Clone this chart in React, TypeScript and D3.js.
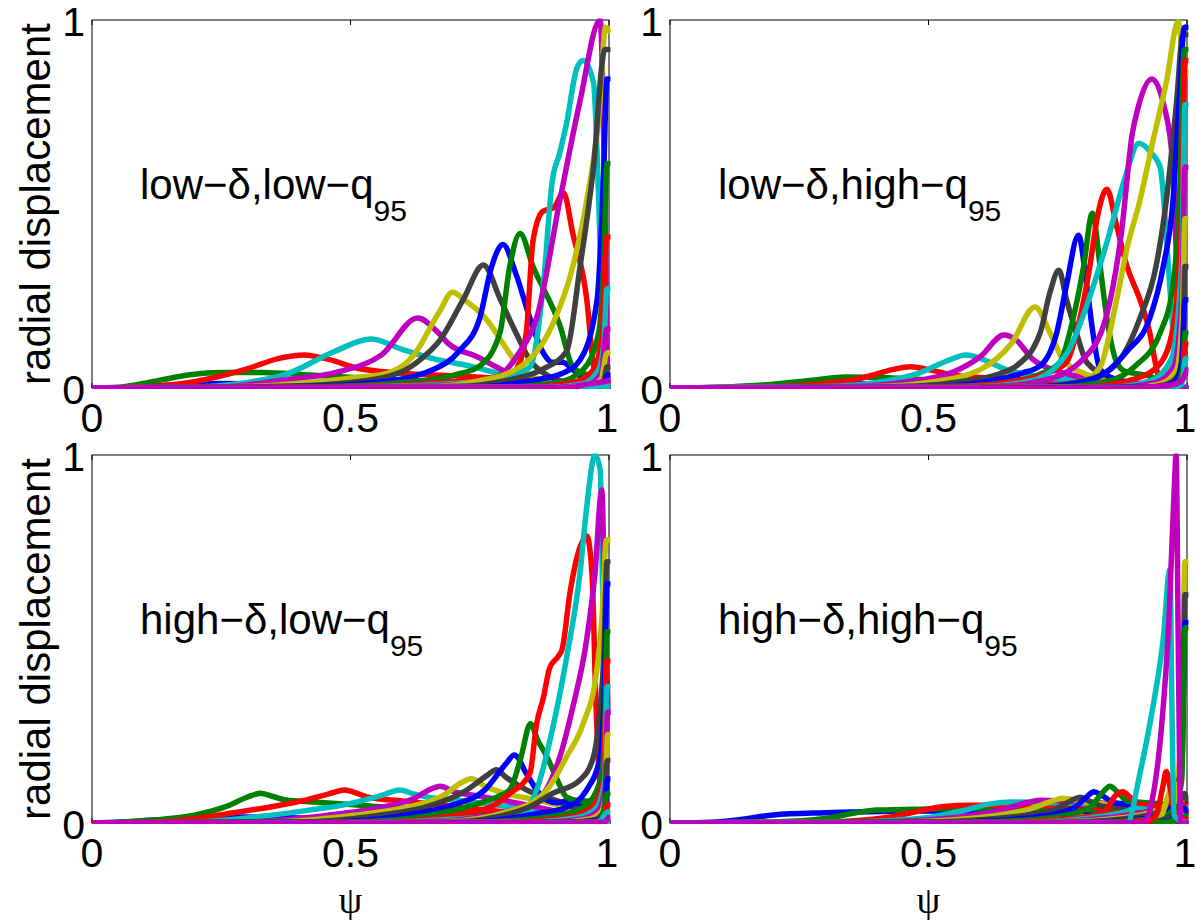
import React from "react";
import * as d3 from "d3";

// MATLAB default line colour order: b, g, r, c, m, y, k(dark grey)
const COLOR_ORDER = ["#0000ff", "#008000", "#ff0000", "#00bfbf", "#bf00bf", "#bfbf00", "#404040"];

const X_TICKS = [0, 0.5, 1];
const X_TICK_LABELS = ["0", "0.5", "1"];
const Y_TICKS = [0, 1];
const Y_TICK_LABELS = ["0", "1"];
const Y_LABEL = "radial displacement";
const X_LABEL = "ψ";

const TITLES = [
  ["low−δ,low−q", "95"],
  ["low−δ,high−q", "95"],
  ["high−δ,low−q", "95"],
  ["high−δ,high−q", "95"],
];

type Pt = [number, number];

// ---------- panel 1: low-delta, low-q95 ----------
const LOW_D_LOW_Q: Pt[][] = [
  [[0,0],[0.08,0.002],[0.15,0.008],[0.25,0.012],[0.35,0.01],[0.5,0.007],[0.7,0.004],[0.9,0.002],[1,0]],
  [[0,0],[0.05,0.002],[0.12,0.018],[0.19,0.036],[0.25,0.042],[0.33,0.042],[0.42,0.035],[0.55,0.025],[0.7,0.016],[0.85,0.008],[0.95,0.003],[1,0]],
  [[0,0],[0.1,0.003],[0.2,0.018],[0.3,0.052],[0.36,0.08],[0.41,0.09],[0.46,0.077],[0.51,0.055],[0.6,0.04],[0.7,0.033],[0.8,0.025],[0.9,0.015],[0.96,0.005],[1,0]],
  [[0,0],[0.2,0.003],[0.3,0.015],[0.38,0.04],[0.47,0.1],[0.54,0.133],[0.6,0.105],[0.66,0.08],[0.73,0.06],[0.8,0.035],[0.88,0.015],[0.95,0.005],[1,0]],
  [[0,0],[0.25,0.003],[0.36,0.02],[0.48,0.045],[0.56,0.09],[0.63,0.19],[0.67,0.15],[0.69,0.12],[0.745,0.085],[0.785,0.055],[0.83,0.025],[0.9,0.008],[1,0]],
  [[0,0],[0.3,0.004],[0.43,0.016],[0.52,0.03],[0.56,0.036],[0.62,0.085],[0.673,0.21],[0.697,0.26],[0.72,0.24],[0.764,0.185],[0.8,0.11],[0.82,0.07],[0.86,0.025],[0.92,0.008],[1,0]],
  [[0,0],[0.35,0.004],[0.5,0.015],[0.6,0.045],[0.634,0.076],[0.673,0.13],[0.718,0.24],[0.757,0.334],[0.79,0.24],[0.82,0.15],[0.847,0.076],[0.88,0.035],[0.93,0.012],[1,0]],
  [[0,0],[0.4,0.004],[0.55,0.015],[0.66,0.05],[0.71,0.1],[0.75,0.19],[0.773,0.33],[0.795,0.39],[0.82,0.31],[0.847,0.19],[0.873,0.095],[0.89,0.07],[0.91,0.07],[0.93,0.05],[0.96,0.015],[1,0]],
  [[0,0],[0.45,0.004],[0.6,0.015],[0.7,0.035],[0.75,0.06],[0.789,0.15],[0.808,0.33],[0.828,0.42],[0.853,0.33],[0.905,0.17],[0.93,0.057],[0.95,0.04],[0.975,0.03],[0.99,0.01],[1,0]],
  [[0,0],[0.5,0.004],[0.65,0.012],[0.75,0.025],[0.8,0.035],[0.82,0.05],[0.84,0.15],[0.853,0.4],[0.872,0.48],[0.893,0.49],[0.912,0.53],[0.93,0.42],[0.957,0.24],[0.97,0.06],[0.98,0.01],[1,0]],
  [[0,0],[0.55,0.004],[0.7,0.012],[0.8,0.03],[0.847,0.057],[0.873,0.28],[0.89,0.56],[0.905,0.64],[0.918,0.72],[0.938,0.87],[0.95,0.89],[0.97,0.83],[0.978,0.6],[0.986,0.24],[0.992,0.02],[1,0]],
  [[0,0],[0.6,0.004],[0.72,0.012],[0.783,0.03],[0.828,0.1],[0.86,0.19],[0.905,0.51],[0.944,0.78],[0.983,1.0],[0.992,0.5],[0.997,0.05],[1,0]],
  [[0,0],[0.65,0.004],[0.75,0.02],[0.828,0.057],[0.89,0.17],[0.93,0.33],[0.957,0.51],[0.983,0.78],[0.993,0.98],[1,0.97]],
  [[0,0],[0.7,0.004],[0.8,0.02],[0.87,0.05],[0.918,0.1],[0.944,0.33],[0.97,0.6],[0.992,0.92],[1,0.92]],
  [[0,0],[0.75,0.004],[0.85,0.02],[0.91,0.04],[0.944,0.076],[0.977,0.24],[0.99,0.6],[0.996,0.84],[1,0.84]],
  [[0,0],[0.8,0.003],[0.9,0.015],[0.95,0.05],[0.98,0.15],[0.99,0.35],[0.996,0.61],[1,0.61]],
  [[0,0],[0.85,0.003],[0.93,0.015],[0.97,0.05],[0.985,0.13],[0.996,0.41],[1,0.41]],
  [[0,0],[0.88,0.002],[0.95,0.012],[0.98,0.05],[0.99,0.12],[0.996,0.27],[1,0.27]],
  [[0,0],[0.9,0.002],[0.96,0.01],[0.985,0.04],[0.996,0.16],[1,0.16]],
  [[0.9,0],[0.96,0.005],[0.985,0.025],[0.996,0.096],[1,0.096]],
  [[0.92,0],[0.97,0.005],[0.99,0.02],[0.996,0.057],[1,0.057]],
  [[0.93,0],[0.975,0.004],[0.99,0.012],[0.997,0.035],[1,0.035]],
  [[0.94,0],[0.98,0.003],[0.995,0.01],[1,0.02]],
  [[0.95,0],[0.985,0.002],[1,0.012]],
  [[0.92,0],[0.97,0],[0.99,0.003],[1,0.006]],
  [[0,0],[0.92,0],[0.95,0.008],[0.98,0.015],[1,0.02]],
];

// ---------- panel 2: low-delta, high-q95 ----------
const LOW_D_HIGH_Q: Pt[][] = [
  [[0,0],[0.1,0.002],[0.2,0.008],[0.3,0.012],[0.4,0.011],[0.55,0.008],[0.7,0.005],[0.85,0.002],[1,0]],
  [[0,0],[0.1,0.002],[0.2,0.01],[0.28,0.022],[0.34,0.03],[0.42,0.028],[0.5,0.022],[0.6,0.016],[0.75,0.01],[0.9,0.004],[1,0]],
  [[0,0],[0.2,0.003],[0.3,0.012],[0.38,0.03],[0.43,0.05],[0.465,0.058],[0.5,0.05],[0.55,0.035],[0.65,0.025],[0.75,0.018],[0.88,0.008],[1,0]],
  [[0,0],[0.3,0.004],[0.4,0.015],[0.48,0.04],[0.53,0.07],[0.573,0.09],[0.61,0.075],[0.65,0.05],[0.72,0.03],[0.8,0.02],[0.9,0.008],[1,0]],
  [[0,0],[0.35,0.004],[0.45,0.015],[0.55,0.045],[0.6,0.085],[0.646,0.144],[0.67,0.13],[0.7,0.08],[0.75,0.045],[0.82,0.025],[0.9,0.01],[1,0]],
  [[0,0],[0.4,0.004],[0.5,0.015],[0.6,0.05],[0.66,0.12],[0.706,0.22],[0.735,0.15],[0.761,0.076],[0.8,0.04],[0.86,0.02],[0.93,0.006],[1,0]],
  [[0,0],[0.45,0.004],[0.55,0.015],[0.64,0.04],[0.67,0.06],[0.716,0.15],[0.735,0.26],[0.752,0.32],[0.767,0.24],[0.786,0.15],[0.806,0.07],[0.85,0.03],[0.92,0.01],[1,0]],
  [[0,0],[0.5,0.004],[0.6,0.015],[0.68,0.04],[0.716,0.06],[0.748,0.15],[0.767,0.28],[0.79,0.415],[0.806,0.28],[0.818,0.15],[0.832,0.05],[0.87,0.02],[0.93,0.008],[1,0]],
  [[0,0],[0.55,0.004],[0.65,0.015],[0.72,0.04],[0.754,0.07],[0.78,0.19],[0.8,0.33],[0.817,0.475],[0.832,0.33],[0.845,0.19],[0.864,0.07],[0.88,0.045],[0.92,0.035],[0.96,0.015],[1,0]],
  [[0,0],[0.55,0.004],[0.65,0.015],[0.73,0.04],[0.767,0.07],[0.793,0.19],[0.812,0.33],[0.826,0.46],[0.845,0.54],[0.864,0.44],[0.884,0.33],[0.909,0.24],[0.928,0.15],[0.94,0.06],[0.95,0.01],[1,0]],
  [[0,0],[0.6,0.004],[0.7,0.02],[0.77,0.1],[0.81,0.24],[0.85,0.42],[0.88,0.57],[0.907,0.665],[0.93,0.64],[0.948,0.6],[0.964,0.33],[0.973,0.15],[0.98,0.02],[1,0]],
  [[0,0],[0.62,0.004],[0.72,0.02],[0.8,0.08],[0.843,0.19],[0.873,0.42],[0.894,0.69],[0.905,0.76],[0.932,0.84],[0.953,0.78],[0.973,0.6],[0.98,0.33],[0.986,0.06],[0.99,0],[1,0]],
  [[0,0],[0.7,0.004],[0.8,0.02],[0.832,0.057],[0.864,0.24],[0.884,0.38],[0.909,0.51],[0.934,0.67],[0.96,0.83],[0.983,0.995],[0.992,0.9],[1,0.85]],
  [[0,0],[0.7,0.004],[0.8,0.02],[0.86,0.06],[0.909,0.19],[0.94,0.33],[0.96,0.51],[0.98,0.78],[0.992,0.96],[1,0.96]],
  [[0,0],[0.72,0.004],[0.82,0.025],[0.884,0.1],[0.928,0.19],[0.954,0.33],[0.973,0.51],[0.985,0.78],[0.995,0.98],[1,0.98]],
  [[0,0],[0.75,0.003],[0.85,0.02],[0.9,0.06],[0.948,0.15],[0.973,0.28],[0.985,0.5],[0.995,0.92],[1,0.92]],
  [[0,0],[0.8,0.003],[0.9,0.025],[0.95,0.07],[0.975,0.18],[0.99,0.5],[0.996,0.89],[1,0.89]],
  [[0,0],[0.85,0.002],[0.93,0.02],[0.97,0.08],[0.99,0.35],[0.996,0.77],[1,0.77]],
  [[0,0],[0.86,0.002],[0.94,0.015],[0.975,0.06],[0.99,0.25],[0.996,0.6],[1,0.6]],
  [[0.5,0],[0.9,0.002],[0.95,0.012],[0.98,0.05],[0.991,0.2],[0.996,0.46],[1,0.46]],
  [[0.6,0],[0.92,0.002],[0.96,0.01],[0.985,0.04],[0.993,0.15],[0.996,0.33],[1,0.33]],
  [[0.7,0],[0.94,0.003],[0.975,0.015],[0.99,0.07],[0.996,0.24],[1,0.24]],
  [[0.75,0],[0.95,0.003],[0.98,0.012],[0.992,0.05],[0.996,0.15],[1,0.15]],
  [[0.8,0],[0.96,0.003],[0.985,0.012],[0.993,0.04],[0.997,0.12],[1,0.12]],
  [[0.85,0],[0.97,0.002],[0.99,0.01],[0.997,0.08],[1,0.08]],
  [[0,0],[0.88,0],[0.93,0.003],[0.97,0.008],[0.99,0.02],[1,0.05]],
];

// ---------- panel 3: high-delta, low-q95 ----------
const HIGH_D_LOW_Q: Pt[][] = [
  [[0,0],[0.05,0.002],[0.12,0.008],[0.2,0.014],[0.3,0.016],[0.45,0.012],[0.6,0.008],[0.8,0.004],[1,0]],
  [[0,0],[0.05,0.002],[0.12,0.008],[0.2,0.022],[0.26,0.045],[0.3,0.07],[0.326,0.081],[0.35,0.072],[0.378,0.062],[0.42,0.058],[0.5,0.05],[0.6,0.04],[0.75,0.025],[0.9,0.01],[1,0]],
  [[0,0],[0.12,0.002],[0.2,0.012],[0.27,0.027],[0.35,0.045],[0.415,0.063],[0.46,0.08],[0.489,0.09],[0.51,0.082],[0.534,0.07],[0.6,0.06],[0.7,0.045],[0.8,0.03],[0.9,0.015],[1,0]],
  [[0,0],[0.2,0.003],[0.34,0.02],[0.42,0.035],[0.49,0.05],[0.56,0.075],[0.596,0.09],[0.62,0.08],[0.65,0.07],[0.72,0.06],[0.8,0.045],[0.9,0.025],[1,0]],
  [[0,0],[0.3,0.003],[0.45,0.02],[0.55,0.04],[0.62,0.065],[0.66,0.095],[0.674,0.1],[0.7,0.085],[0.74,0.075],[0.8,0.06],[0.87,0.04],[0.95,0.015],[1,0]],
  [[0,0],[0.35,0.003],[0.5,0.02],[0.6,0.04],[0.68,0.075],[0.715,0.11],[0.734,0.12],[0.76,0.1],[0.8,0.08],[0.87,0.06],[0.95,0.025],[1,0]],
  [[0,0],[0.4,0.003],[0.55,0.02],[0.65,0.045],[0.72,0.085],[0.765,0.13],[0.782,0.145],[0.8,0.125],[0.84,0.09],[0.9,0.06],[0.95,0.03],[1,0]],
  [[0,0],[0.45,0.003],[0.6,0.02],[0.7,0.05],[0.76,0.09],[0.8,0.16],[0.817,0.185],[0.84,0.135],[0.86,0.09],[0.88,0.062],[0.9,0.055],[0.92,0.06],[0.95,0.045],[0.975,0.02],[1,0]],
  [[0,0],[0.5,0.003],[0.65,0.02],[0.74,0.05],[0.79,0.075],[0.808,0.09],[0.83,0.18],[0.848,0.27],[0.862,0.225],[0.88,0.18],[0.9,0.117],[0.918,0.07],[0.944,0.06],[0.97,0.06],[0.985,0.03],[1,0]],
  [[0,0],[0.55,0.003],[0.7,0.02],[0.78,0.05],[0.808,0.08],[0.847,0.135],[0.86,0.27],[0.873,0.34],[0.885,0.42],[0.9,0.45],[0.909,0.47],[0.925,0.63],[0.944,0.75],[0.957,0.78],[0.967,0.68],[0.975,0.315],[0.985,0.05],[0.99,0],[1,0]],
  [[0,0],[0.6,0.004],[0.75,0.015],[0.83,0.02],[0.86,0.09],[0.893,0.27],[0.918,0.45],[0.944,0.68],[0.957,0.86],[0.973,1.0],[0.983,0.96],[0.988,0.59],[0.993,0.05],[1,0]],
  [[0,0],[0.65,0.004],[0.8,0.03],[0.86,0.06],[0.905,0.18],[0.93,0.315],[0.957,0.5],[0.973,0.68],[0.986,0.905],[0.993,0.5],[1,0.3]],
  [[0,0],[0.68,0.004],[0.815,0.035],[0.88,0.09],[0.918,0.18],[0.95,0.27],[0.976,0.41],[0.986,0.55],[0.995,0.77],[1,0.77]],
  [[0,0],[0.7,0.004],[0.84,0.04],[0.89,0.08],[0.944,0.117],[0.97,0.18],[0.983,0.315],[0.99,0.45],[0.996,0.71],[1,0.71]],
  [[0,0],[0.72,0.003],[0.86,0.025],[0.918,0.043],[0.957,0.09],[0.983,0.18],[0.992,0.4],[0.996,0.65],[1,0.65]],
  [[0,0],[0.75,0.003],[0.9,0.02],[0.957,0.05],[0.986,0.13],[0.992,0.28],[0.996,0.52],[1,0.52]],
  [[0,0],[0.8,0.003],[0.92,0.015],[0.965,0.04],[0.99,0.12],[0.996,0.44],[1,0.44]],
  [[0.3,0],[0.85,0.003],[0.94,0.015],[0.975,0.04],[0.992,0.12],[0.996,0.37],[1,0.37]],
  [[0.4,0],[0.88,0.003],[0.95,0.012],[0.98,0.035],[0.993,0.1],[0.997,0.3],[1,0.3]],
  [[0.5,0],[0.9,0.002],[0.96,0.01],[0.985,0.03],[0.994,0.09],[0.997,0.24],[1,0.24]],
  [[0.6,0],[0.92,0.002],[0.97,0.008],[0.99,0.03],[0.997,0.17],[1,0.17]],
  [[0.7,0],[0.94,0.002],[0.98,0.008],[0.993,0.03],[0.997,0.12],[1,0.12]],
  [[0.75,0],[0.96,0.002],[0.985,0.008],[0.997,0.08],[1,0.08]],
  [[0.8,0],[0.97,0.002],[0.99,0.008],[0.997,0.05],[1,0.05]],
  [[0.85,0],[0.98,0.002],[0.997,0.03],[1,0.03]],
  [[0,0],[0.95,0],[0.99,0.002],[1,0.015]],
];

// ---------- panel 4: high-delta, high-q95 ----------
const HIGH_D_HIGH_Q: Pt[][] = [
  [[0,0],[0.08,0.002],[0.14,0.01],[0.2,0.022],[0.3,0.028],[0.45,0.032],[0.6,0.033],[0.75,0.032],[0.85,0.028],[0.92,0.02],[1,0]],
  [[0,0],[0.2,0.003],[0.3,0.012],[0.36,0.028],[0.4,0.035],[0.5,0.038],[0.65,0.04],[0.78,0.038],[0.88,0.03],[0.95,0.018],[1,0]],
  [[0,0],[0.3,0.003],[0.42,0.015],[0.48,0.032],[0.53,0.045],[0.58,0.048],[0.7,0.048],[0.8,0.045],[0.88,0.035],[0.95,0.02],[1,0]],
  [[0,0],[0.35,0.003],[0.5,0.015],[0.57,0.035],[0.62,0.052],[0.66,0.057],[0.75,0.055],[0.83,0.05],[0.9,0.04],[0.96,0.02],[1,0]],
  [[0,0],[0.4,0.003],[0.55,0.015],[0.64,0.035],[0.69,0.055],[0.716,0.062],[0.76,0.06],[0.83,0.055],[0.9,0.045],[0.96,0.025],[1,0]],
  [[0,0],[0.45,0.003],[0.6,0.015],[0.7,0.04],[0.74,0.06],[0.76,0.067],[0.79,0.06],[0.85,0.05],[0.92,0.04],[0.97,0.02],[1,0]],
  [[0,0],[0.5,0.003],[0.65,0.015],[0.74,0.035],[0.775,0.06],[0.793,0.07],[0.81,0.06],[0.84,0.045],[0.9,0.04],[0.95,0.03],[0.98,0.015],[1,0]],
  [[0,0],[0.55,0.003],[0.7,0.015],[0.78,0.04],[0.805,0.07],[0.82,0.085],[0.835,0.075],[0.86,0.055],[0.9,0.05],[0.95,0.045],[0.98,0.02],[1,0]],
  [[0,0],[0.6,0.003],[0.74,0.015],[0.81,0.04],[0.835,0.08],[0.851,0.1],[0.865,0.085],[0.885,0.06],[0.92,0.055],[0.96,0.05],[0.985,0.02],[1,0]],
  [[0,0],[0.65,0.003],[0.78,0.012],[0.84,0.03],[0.862,0.075],[0.876,0.085],[0.89,0.07],[0.91,0.05],[0.94,0.045],[0.97,0.03],[0.99,0.01],[1,0]],
  [[0,0],[0.7,0.003],[0.82,0.015],[0.88,0.03],[0.9,0.04],[0.93,0.035],[0.96,0.02],[1,0]],
  [[0,0],[0.72,0.003],[0.85,0.015],[0.92,0.03],[0.95,0.035],[0.98,0.02],[1,0]],
  [[0,0],[0.75,0.003],[0.88,0.015],[0.95,0.04],[0.98,0.1],[0.99,0.3],[0.996,0.71],[1,0.71]],
  [[0,0],[0.78,0.003],[0.9,0.015],[0.96,0.04],[0.985,0.12],[0.993,0.35],[0.996,0.62],[1,0.62]],
  [[0,0],[0.8,0.003],[0.92,0.012],[0.97,0.04],[0.99,0.15],[0.996,0.545],[1,0.545]],
  [[0,0],[0.82,0.003],[0.93,0.01],[0.975,0.035],[0.99,0.12],[0.996,0.53],[1,0.53]],
  [[0.3,0],[0.85,0.003],[0.95,0.01],[0.985,0.03],[0.996,0.05],[1,0.05]],
  [[0.4,0],[0.88,0.002],[0.96,0.01],[0.99,0.03],[1,0.04]],
  [[0.5,0],[0.9,0.002],[0.97,0.01],[0.995,0.03],[1,0.03]],
  [[0.6,0],[0.92,0.003],[0.95,0.02],[0.965,0.08],[0.975,0.11],[0.985,0.04],[0.995,0.02],[1,0.02]],
  [[0.6,0],[0.93,0.003],[0.97,0.02],[0.985,0.05],[0.995,0.08],[1,0.06]],
  [[0.7,0],[0.95,0.003],[0.98,0.015],[0.995,0.04],[1,0.03]],
  [[0.7,0],[0.96,0.003],[0.99,0.015],[1,0.02]],
  [[0.7,0],[0.92,0.003],[0.94,0.02],[0.952,0.09],[0.96,0.14],[0.968,0.09],[0.978,0.02],[0.99,0.01],[1,0.01]],
  [[0,0],[0.884,0],[0.909,0.135],[0.934,0.315],[0.954,0.5],[0.967,0.69],[0.971,0.3],[0.975,0.02],[1,0]],
  [[0,0],[0.915,0],[0.935,0.08],[0.95,0.25],[0.965,0.55],[0.975,0.9],[0.979,1.0],[0.983,0.5],[0.988,0],[1,0]],
];

const PANEL_DATA = [LOW_D_LOW_Q, LOW_D_HIGH_Q, HIGH_D_LOW_Q, HIGH_D_HIGH_Q];

const W = 1196;
const H = 920;
const PW = 517;
const PH = 368;
const ORIGINS: [number, number][] = [
  [92, 20],
  [670, 20],
  [92, 455],
  [670, 455],
];
const FONT = "'Liberation Sans', Arial, Helvetica, sans-serif";
const FS = 41;

function Panel({ idx }: { idx: number }) {
  const [ox, oy] = ORIGINS[idx];
  const x = d3.scaleLinear().domain([0, 1]).range([ox, ox + PW]);
  const y = d3.scaleLinear().domain([0, 1]).range([oy + PH, oy]);
  const line = d3
    .line<Pt>()
    .x((d) => x(d[0]))
    .y((d) => y(d[1]))
    .curve(d3.curveMonotoneX);
  const curves = PANEL_DATA[idx];
  const clipId = `clip${idx}`;
  const [title, sub] = TITLES[idx];
  const showXLabel = idx >= 2;
  const showYLabel = idx % 2 === 0;
  return (
    <g>
      <defs>
        <clipPath id={clipId}>
          <rect x={ox + 0.5} y={oy - 1.5} width={PW + 1} height={PH + 2.5} />
        </clipPath>
      </defs>
      <rect x={ox} y={oy} width={PW} height={PH} fill="white" stroke="black" strokeWidth={1} />
      {X_TICKS.map((t) => (
        <g key={"xt" + t}>
          <line x1={x(t)} x2={x(t)} y1={oy + PH} y2={oy + PH - 5} stroke="black" strokeWidth={1} />
          <line x1={x(t)} x2={x(t)} y1={oy} y2={oy + 5} stroke="black" strokeWidth={1} />
        </g>
      ))}
      <g clipPath={`url(#${clipId})`}>
        {curves.map((c, i) => (
          <path
            key={i}
            d={line(c) || ""}
            fill="none"
            stroke={COLOR_ORDER[i % COLOR_ORDER.length]}
            strokeWidth={5.5}
            strokeLinejoin="round"
            strokeLinecap="round"
          />
        ))}
      </g>
      {X_TICKS.map((t, i) => (
        <text
          key={"xl" + t}
          x={i === 2 ? x(t) - 2 : x(t)}
          y={oy + PH + 44}
          textAnchor="middle"
          fontFamily={FONT}
          fontSize={FS}
        >
          {X_TICK_LABELS[i]}
        </text>
      ))}
      {Y_TICKS.map((t, i) => (
        <text
          key={"yl" + t}
          x={ox - 7}
          y={y(t) + 16}
          textAnchor="end"
          fontFamily={FONT}
          fontSize={FS}
        >
          {Y_TICK_LABELS[i]}
        </text>
      ))}
      <text x={ox + 48} y={oy + 179} fontFamily={FONT} fontSize={42}>
        {title}
        <tspan fontSize={30} dy={22}>
          {sub}
        </tspan>
      </text>
      {showYLabel && (
        <text
          transform={`translate(${ox - 42}, ${oy + PH / 2}) rotate(-90)`}
          textAnchor="middle"
          fontFamily={FONT}
          fontSize={42}
        >
          {Y_LABEL}
        </text>
      )}
      {showXLabel && (
        <text
          x={ox + PW / 2}
          y={oy + PH + 90}
          textAnchor="middle"
          fontFamily="'Liberation Serif', 'DejaVu Serif', serif"
          fontSize={38}
        >
          {X_LABEL}
        </text>
      )}
    </g>
  );
}

export default function App() {
  return (
    <svg
      width={W}
      height={H}
      viewBox={`0 0 ${W} ${H}`}
      style={{ position: "absolute", left: 0, top: 0, background: "white" }}
    >
      <rect x={0} y={0} width={W} height={H} fill="white" />
      {[0, 1, 2, 3].map((i) => (
        <Panel key={i} idx={i} />
      ))}
    </svg>
  );
}
